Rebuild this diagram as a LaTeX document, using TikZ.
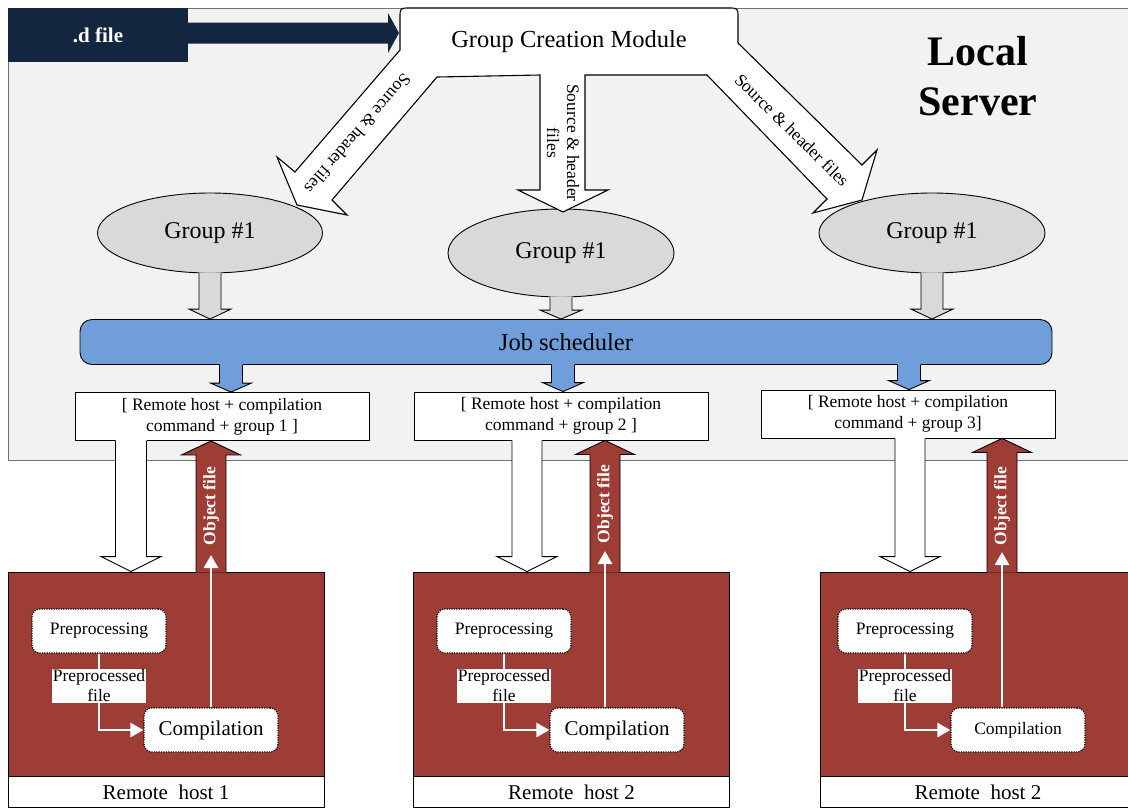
\documentclass[tikz,border=0pt]{standalone}
\usepackage{fontspec}
\setmainfont{Liberation Serif}
\usetikzlibrary{shapes.geometric,arrows.meta,calc}

\definecolor{panelgray}{HTML}{F2F2F2}
\definecolor{dnavy}{HTML}{13263F}
\definecolor{hostred}{HTML}{9E3C36}
\definecolor{schedblue}{HTML}{6F9EDA}
\definecolor{groupgray}{HTML}{D9D9D9}

\newcommand{\fs}[2]{\fontsize{#1}{#2}\selectfont}

\tikzset{
  outline/.style={draw=black, line width=0.9pt},
  groupell/.style={ellipse, outline, fill=groupgray, minimum width=225pt, minimum height=80pt, font=\fs{24}{28}},
  cmdbox/.style={rectangle, outline, fill=white, minimum width=294pt, minimum height=48pt, align=center, font=\fs{17.5}{21}},
  hostbox/.style={rectangle, outline, fill=hostred, minimum width=316pt, minimum height=204pt},
  hostlabel/.style={rectangle, outline, fill=white, minimum width=316pt, minimum height=31pt, font=\fs{21}{24}},
  stepnode/.style={rectangle, rounded corners=8pt, draw=black, line width=1.2pt, dash pattern=on 1.2pt off 1.2pt, fill=white, minimum width=134pt, minimum height=44pt, font=\fs{17.5}{20}},
  flow/.style={white, line width=2.8pt, -{Triangle[length=13pt,width=14pt]}},
  labelbox/.style={fill=white, text=black, align=center, inner sep=1pt, font=\fs{17.5}{20}},
  arrowtext/.style={font=\fs{17.5}{20}, align=center},
  objtext/.style={text=white, font=\bfseries\fs{17.5}{20}, rotate=90},
}

% block arrows: fill, from, to, half shaft, half head, head length
\newcommand{\fatdown}[6]{%
  \fill[#1] let \p1=(#2), \p2=(#3) in
    (\x1-#4,\y1+1pt) -- (\x1-#4,\y2+#6) -- (\x1-#5,\y2+#6) -- (\x1,\y2)
    -- (\x1+#5,\y2+#6) -- (\x1+#4,\y2+#6) -- (\x1+#4,\y1+1pt) -- cycle;
  \draw[outline] let \p1=(#2), \p2=(#3) in
    (\x1-#4,\y1) -- (\x1-#4,\y2+#6) -- (\x1-#5,\y2+#6) -- (\x1,\y2)
    -- (\x1+#5,\y2+#6) -- (\x1+#4,\y2+#6) -- (\x1+#4,\y1);}
\newcommand{\fatup}[6]{%
  \fill[#1] let \p1=(#2), \p2=(#3) in
    (\x1-#4,\y1-1pt) -- (\x1-#4,\y2-#6) -- (\x1-#5,\y2-#6) -- (\x1,\y2)
    -- (\x1+#5,\y2-#6) -- (\x1+#4,\y2-#6) -- (\x1+#4,\y1-1pt) -- cycle;
  \draw[outline] let \p1=(#2), \p2=(#3) in
    (\x1-#4,\y1) -- (\x1-#4,\y2-#6) -- (\x1-#5,\y2-#6) -- (\x1,\y2)
    -- (\x1+#5,\y2-#6) -- (\x1+#4,\y2-#6) -- (\x1+#4,\y1);}

\begin{document}
\begin{tikzpicture}[x=1pt, y=-1pt]
  \useasboundingbox (0,0) rectangle (1128,807);

  % local server panel
  \draw[fill=panelgray, draw=black!55, line width=0.9pt] (8,8) rectangle (1140,460);
  \node[font=\bfseries\fs{42}{50}, align=center] (local) at (978,76) {Local\\Server};

  % .d file input
  \node[fill=dnavy, text=white, font=\bfseries\fs{21}{24}, minimum width=180pt, minimum height=54pt] (dfile) at (98,35) {.d file};
  \coordinate (gcmw) at (399,33);
  \fill[dnavy] let \p1=(dfile.east), \p2=(gcmw) in
    (\x1,\y2+10.5pt) -- (\x2-11pt,\y2+10.5pt) -- (\x2-11pt,\y2+20pt) -- (\x2,\y2)
    -- (\x2-11pt,\y2-20pt) -- (\x2-11pt,\y2-10.5pt) -- (\x1,\y2-10.5pt) -- cycle;

  % groups
  \node[groupell] (g1) at (210,233) {Group \#1};
  \node[groupell, minimum width=226pt, minimum height=88pt] (g2) at (561,253) {Group \#1};
  \node[groupell, minimum width=226pt] (g3) at (932,233) {Group \#1};

  % group creation module with its three arrows
  \draw[outline, line width=1.1pt, fill=white]
    (400,50) -- (400,18) .. controls (400,8) .. (410,8) -- (728,8) .. controls (738,8) .. (738,18) -- (738,43)
    -- (862,165) -- (877,150) -- (862,200) -- (813,213) -- (827,199) -- (707,75)
    -- (585,75) -- (585,190) -- (608,190) -- (563,212) -- (518,190) -- (540,190) -- (540,75)
    -- (437,77) -- (332,200) -- (347,215) -- (297,205) -- (277,157) -- (295,172) -- cycle;
  \node[font=\fs{24.5}{28}] (gcm) at (569,42) {Group Creation Module};
  \node[arrowtext, rotate=-131] (src1) at (358,134) {Source \& header files};
  \node[arrowtext, rotate=-90] (src2) at (563,143) {Source \& header\\files};
  \node[arrowtext, rotate=-44.5] (src3) at (792,130) {Source \& header files};

  % job scheduler
  \node[rectangle, rounded corners=12pt, outline, fill=schedblue, minimum width=972pt, minimum height=45pt, font=\fs{24.5}{28}] (sched) at (566,342) {Job scheduler};
  \fatdown{groupgray}{g1.south}{g1.south |- sched.north}{11pt}{21pt}{10pt}
  \fatdown{groupgray}{g2.south}{g2.south |- sched.north}{11pt}{21pt}{9pt}
  \fatdown{groupgray}{g3.south}{g3.south |- sched.north}{11pt}{21pt}{10pt}

  % commands
  \node[cmdbox] (cmd1) at (222,416.5) {[ Remote host + compilation\\command + group 1 ]};
  \node[cmdbox] (cmd2) at (561,416) {[ Remote host + compilation\\command + group 2 ]};
  \node[cmdbox] (cmd3) at (908,414) {[ Remote host + compilation\\command + group 3]};
  \coordinate (b1) at (231,0);
  \coordinate (b2) at (563,0);
  \coordinate (b3) at (909,0);
  \fatdown{schedblue}{b1 |- sched.south}{b1 |- cmd1.north}{11.5pt}{20.5pt}{9pt}
  \fatdown{schedblue}{b2 |- sched.south}{b2 |- cmd2.north}{11.5pt}{20.5pt}{9pt}
  \fatdown{schedblue}{b3 |- sched.south}{b3 |- cmd3.north}{11.5pt}{20.5pt}{9pt}

  % remote hosts
  \node[hostbox] (h1) at (166,674) {};
  \node[hostbox] (h2) at (571.5,674) {};
  \node[hostbox] (h3) at (978,674) {};
  \node[hostlabel, anchor=north] (h1lab) at (h1.south) {Remote\ \ host 1};
  \node[hostlabel, anchor=north] (h2lab) at (h2.south) {Remote\ \ host 2};
  \node[hostlabel, anchor=north] (h3lab) at (h3.south) {Remote\ \ host 2};

  % commands sent to the hosts
  \coordinate (w1) at (131,0);
  \coordinate (w2) at (527,0);
  \coordinate (w3) at (910,0);
  \fatdown{white}{w1 |- cmd1.south}{w1 |- h1.north}{15.5pt}{30pt}{15pt}
  \fatdown{white}{w2 |- cmd2.south}{w2 |- h2.north}{15pt}{30pt}{15pt}
  \fatdown{white}{w3 |- cmd3.south}{w3 |- h3.north}{15pt}{30pt}{15pt}

  % object files sent back
  \coordinate (r1) at (211,0);
  \coordinate (r2) at (605,0);
  \coordinate (r3) at (1002,0);
  \fatup{hostred}{r1 |- h1.north}{r1 |- cmd1.south}{15pt}{29.5pt}{14pt}
  \fatup{hostred}{r2 |- h2.north}{r2 |- cmd2.south}{15pt}{29.5pt}{14pt}
  \fatup{hostred}{r3 |- h3.north}{r3 |- cmd3.south}{15pt}{29.5pt}{14pt}

  % host 1
  \node[stepnode] (pre1) at (99,631) {Preprocessing};
  \node[stepnode, font=\fs{21}{24}] (comp1) at (211,730) {Compilation};
  \draw[flow] (pre1.south) |- node[pos=0.21, labelbox] (pf1) {Preprocessed\\file} (comp1.west);
  \coordinate (o1) at (211,555);
  \draw[flow] (o1 |- comp1.north) -- (o1);
  \node[objtext] (obj1) at (211,506) {Object file};

  % host 2
  \node[stepnode] (pre2) at (504,631) {Preprocessing};
  \node[stepnode, font=\fs{21}{24}] (comp2) at (617,730) {Compilation};
  \draw[flow] (pre2.south) |- node[pos=0.21, labelbox] (pf2) {Preprocessed\\file} (comp2.west);
  \coordinate (o2) at (605,551);
  \draw[flow] (o2 |- comp2.north) -- (o2);
  \node[objtext] (obj2) at (605,504) {Object file};

  % host 3
  \node[stepnode] (pre3) at (905,631) {Preprocessing};
  \node[stepnode] (comp3) at (1018,730) {Compilation};
  \draw[flow] (pre3.south) |- node[pos=0.21, labelbox] (pf3) {Preprocessed\\file} (comp3.west);
  \coordinate (o3) at (1002,552);
  \draw[flow] (o3 |- comp3.north) -- (o3);
  \node[objtext] (obj3) at (1002,506) {Object file};
\end{tikzpicture}
\end{document}
